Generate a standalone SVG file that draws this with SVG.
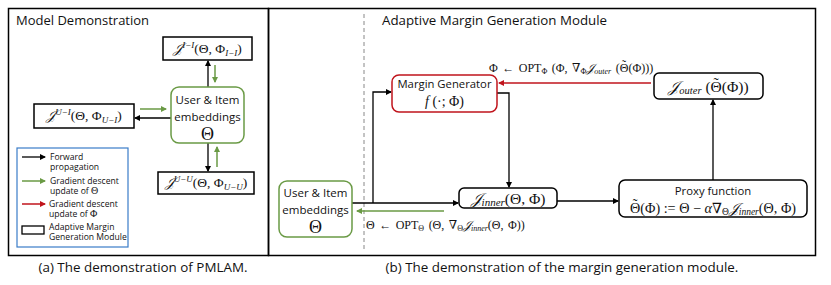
<svg xmlns="http://www.w3.org/2000/svg" width="831" height="285" viewBox="0 0 831 285">
<defs>
<style>
.panel{fill:none;stroke:#000;stroke-width:1.5}
.box{fill:#fff;stroke:#000;stroke-width:1.5}
.gbox{fill:#fff;stroke:#6a9a45;stroke-width:1.5}
.rbox{fill:#fff;stroke:#c0141c;stroke-width:1.5}
.leg{fill:#fff;stroke:#3a7cc8;stroke-width:1.2}
.k{fill:none;stroke:#000;stroke-width:1.3}
.g{fill:none;stroke:#6a9a45;stroke-width:1.5}
.r{fill:none;stroke:#c0141c;stroke-width:1.5}
.sans{font-family:"Open Sans","Liberation Sans",sans-serif;fill:#111}
.math{font-family:"Liberation Serif","DejaVu Serif",serif;fill:#111}
.it{font-style:italic}
</style>
<marker id="ak" markerWidth="6" markerHeight="6" refX="5" refY="3" orient="auto" markerUnits="userSpaceOnUse"><path d="M0,0 L6,3 L0,6 z" fill="#000"/></marker>
<marker id="ag" markerWidth="6" markerHeight="6" refX="5" refY="3" orient="auto" markerUnits="userSpaceOnUse"><path d="M0,0 L6,3 L0,6 z" fill="#6a9a45"/></marker>
<marker id="ar" markerWidth="6" markerHeight="6" refX="5" refY="3" orient="auto" markerUnits="userSpaceOnUse"><path d="M0,0 L6,3 L0,6 z" fill="#c0141c"/></marker>
</defs>
<rect width="831" height="285" fill="#fff"/>

<g id="panels">
<rect class="panel" x="8.5" y="8.5" width="260" height="247"/>
<rect class="panel" x="268.5" y="8.5" width="547" height="247"/>
<line x1="364" y1="14" x2="364" y2="252" stroke="#888" stroke-width="1" stroke-dasharray="4,3"/>
<text class="sans" x="16" y="25" font-size="13">Model Demonstration</text>
<text class="sans" x="382" y="25" font-size="13.3">Adaptive Margin Generation Module</text>
<text class="sans" x="143" y="272" font-size="13.4" text-anchor="middle">(a) The demonstration of PMLAM.</text>
<text class="sans" x="562" y="272" font-size="13.4" text-anchor="middle">(b) The demonstration of the margin generation module.</text>
</g>

<g id="connectors">
<!-- left panel -->
<line class="k" x1="208" y1="87" x2="208" y2="61" marker-end="url(#ak)"/>
<line class="g" x1="215" y1="65" x2="215" y2="82" marker-end="url(#ag)"/>
<line class="g" x1="140" y1="109" x2="166" y2="109" marker-end="url(#ag)"/>
<line class="k" x1="171" y1="118" x2="135" y2="118" marker-end="url(#ak)"/>
<line class="k" x1="208" y1="143" x2="208" y2="171" marker-end="url(#ak)"/>
<line class="g" x1="217" y1="167" x2="217" y2="147" marker-end="url(#ag)"/>
<!-- right panel -->
<line class="k" x1="352" y1="203" x2="458" y2="203" marker-end="url(#ak)"/>
<polyline class="k" points="373,203 373,92 391,92" marker-end="url(#ak)"/>
<polyline class="k" points="497,93 509,93 509,187" marker-end="url(#ak)"/>
<line class="k" x1="557" y1="201" x2="618" y2="201" marker-end="url(#ak)"/>
<line class="k" x1="713" y1="180" x2="713" y2="100" marker-end="url(#ak)"/>
<line class="r" x1="651" y1="83" x2="499" y2="83" marker-end="url(#ar)"/>
<line class="g" x1="444" y1="211" x2="357" y2="211" marker-end="url(#ag)"/>
<text class="math" x="489" y="72" font-size="12" word-spacing="1.5">Φ ← OPT<tspan dy="2" font-size="8">Φ</tspan><tspan dy="-2"> (Φ, ∇</tspan><tspan dy="2" font-size="8">Φ</tspan><tspan dy="-2" class="it">𝒥</tspan><tspan dy="2" font-size="8" class="it">outer</tspan><tspan dy="-2"> (Θ</tspan><tspan dx="-6.3" dy="-3">˜</tspan><tspan dx="2.4" dy="3">(Φ)))</tspan></text>
<text class="math" x="366" y="229" font-size="12" word-spacing="1.5">Θ ← OPT<tspan dy="2" font-size="8">Θ</tspan><tspan dy="-2"> (Θ, ∇</tspan><tspan dy="2" font-size="8">Θ</tspan><tspan dy="-2" class="it">𝒥</tspan><tspan dy="2" font-size="8" class="it">inner</tspan><tspan dy="-2">(Θ, Φ))</tspan></text>
</g>

<g id="n-jii">
<rect class="box" x="163" y="37" width="89" height="23"/>
<text class="math" x="207.5" y="53" font-size="13.5" text-anchor="middle"><tspan class="it">𝒥</tspan><tspan dy="-5" font-size="9" class="it">I−I</tspan><tspan dy="5">(Θ, Φ</tspan><tspan dy="3" font-size="9" class="it">I−I</tspan><tspan dy="-3">)</tspan></text>
</g>

<g id="n-emb-left">
<rect class="gbox" x="171" y="87" width="73" height="56" rx="8"/>
<text class="sans" x="207.5" y="104" font-size="11.5" text-anchor="middle">User &amp; Item</text>
<text class="sans" x="207.5" y="121" font-size="11.5" text-anchor="middle">embeddings</text>
<text class="math" x="207.5" y="140" font-size="18" text-anchor="middle">Θ</text>
</g>

<g id="n-jui">
<rect class="box" x="34" y="104" width="100" height="24"/>
<text class="math" x="84" y="120" font-size="13.5" text-anchor="middle"><tspan class="it">𝒥</tspan><tspan dy="-5" font-size="9" class="it">U−I</tspan><tspan dy="5">(Θ, Φ</tspan><tspan dy="3" font-size="9" class="it">U−I</tspan><tspan dy="-3">)</tspan></text>
</g>

<g id="n-juu">
<rect class="box" x="158" y="172" width="96" height="22"/>
<text class="math" x="206" y="187" font-size="13.5" text-anchor="middle"><tspan class="it">𝒥</tspan><tspan dy="-5" font-size="9" class="it">U−U</tspan><tspan dy="5">(Θ, Φ</tspan><tspan dy="3" font-size="9" class="it">U−U</tspan><tspan dy="-3">)</tspan></text>
</g>

<g id="legend">
<rect class="leg" x="17" y="148" width="111" height="99"/>
<line class="k" x1="22" y1="157" x2="45" y2="157" marker-end="url(#ak)"/>
<text class="sans" x="50" y="160" font-size="8.6">Forward</text>
<text class="sans" x="50" y="169.5" font-size="8.6">propagation</text>
<line class="g" x1="22" y1="181" x2="45" y2="181" marker-end="url(#ag)"/>
<text class="sans" x="50" y="184" font-size="8.6">Gradient descent</text>
<text class="sans" x="50" y="194" font-size="8.6">update of <tspan class="math" font-size="10">Θ</tspan></text>
<line class="r" x1="22" y1="204" x2="45" y2="204" marker-end="url(#ar)"/>
<text class="sans" x="49" y="207" font-size="8.6">Gradient descent</text>
<text class="sans" x="49" y="217" font-size="8.6">update of <tspan class="math" font-size="10">Φ</tspan></text>
<rect x="22" y="226" width="22" height="8" fill="#fff" stroke="#000" stroke-width="1.3"/>
<text class="sans" x="49" y="230" font-size="8.6">Adaptive Margin</text>
<text class="sans" x="49" y="240" font-size="8.6">Generation Module</text>
</g>

<g id="n-margin">
<rect class="rbox" x="392" y="75" width="105" height="37" rx="7"/>
<text class="sans" x="444.5" y="88" font-size="11.3" text-anchor="middle">Margin Generator</text>
<text class="math" x="444.5" y="106" font-size="14" text-anchor="middle"><tspan class="it">f</tspan> (·; Φ)</text>
</g>

<g id="n-outer">
<rect class="box" x="654" y="73" width="109" height="26" rx="5"/>
<text class="math" x="708.5" y="91.5" font-size="15.5" text-anchor="middle"><tspan class="it">𝒥</tspan><tspan dy="2.5" font-size="10.5" class="it">outer</tspan><tspan dy="-2.5"> (Θ</tspan><tspan dx="-8.2" dy="-4">˜</tspan><tspan dx="3.1" dy="4">(Φ))</tspan></text>
</g>

<g id="n-emb-right">
<rect class="gbox" x="279" y="181" width="73" height="56" rx="8"/>
<text class="sans" x="315.5" y="197" font-size="11.5" text-anchor="middle">User &amp; Item</text>
<text class="sans" x="315.5" y="214" font-size="11.5" text-anchor="middle">embeddings</text>
<text class="math" x="315.5" y="233" font-size="18" text-anchor="middle">Θ</text>
</g>

<g id="n-inner">
<rect class="box" x="459" y="188" width="98" height="20" rx="5"/>
<text class="math" x="508" y="203.5" font-size="15.5" text-anchor="middle"><tspan class="it">𝒥</tspan><tspan dy="2.5" font-size="11" class="it">inner</tspan><tspan dy="-2.5">(Θ, Φ)</tspan></text>
</g>

<g id="n-proxy">
<rect class="box" x="619" y="180" width="188" height="37" rx="6"/>
<text class="sans" x="713" y="195" font-size="11.3" text-anchor="middle">Proxy function</text>
<text class="math" x="713" y="212.5" font-size="14.2" text-anchor="middle">Θ<tspan dx="-7.5" dy="-3.8">˜</tspan><tspan dx="2.8" dy="3.8">(Φ) := Θ − </tspan><tspan class="it">α</tspan>∇<tspan dy="2.5" font-size="9.5">Θ</tspan><tspan dy="-2.5" class="it">𝒥</tspan><tspan dy="2.5" font-size="9.5" class="it">inner</tspan><tspan dy="-2.5">(Θ, Φ)</tspan></text>
</g>
</svg>
